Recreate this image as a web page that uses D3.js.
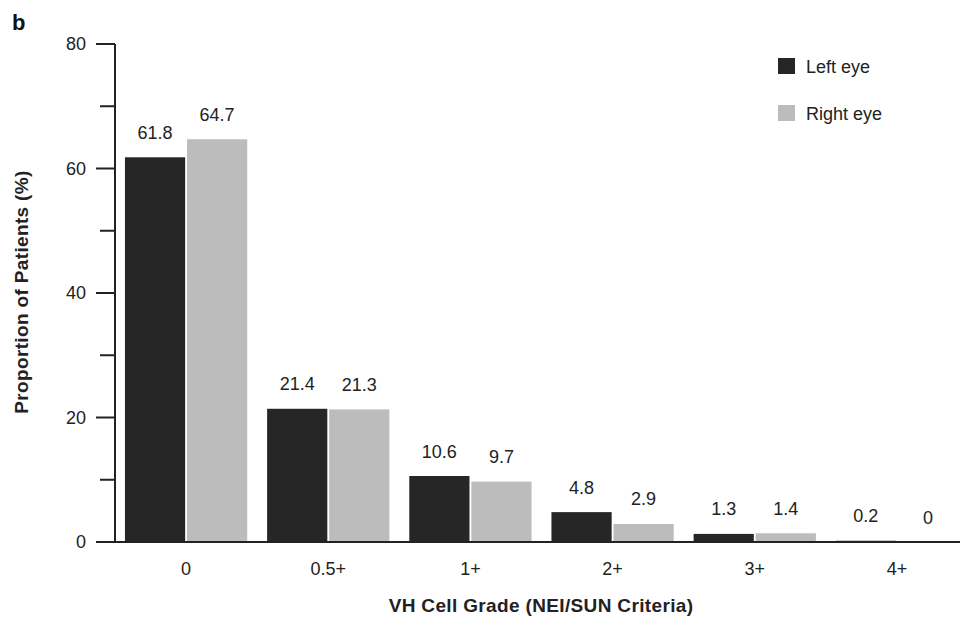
<!DOCTYPE html>
<html><head><meta charset="utf-8">
<script src="https://cdn.jsdelivr.net/npm/d3@7"></script>
<style>body{margin:0;background:#fff}svg{display:block;font-family:"Liberation Sans",Arial,Helvetica,sans-serif}</style>
</head><body>
<script>
const categories = ["0", "0.5+", "1+", "2+", "3+", "4+"];
const series = ["Left eye", "Right eye"];
const leftEye = [61.8, 21.4, 10.6, 4.8, 1.3, 0.2];
const rightEye = [64.7, 21.3, 9.7, 2.9, 1.4, 0];
const yTicks = [0, 10, 20, 30, 40, 50, 60, 70, 80];
const yLabels = [0, 20, 40, 60, 80];
const colors = ["#262626", "#bcbcbc"];

const W = 960, H = 619;
const svg = d3.select("body").append("svg").attr("width", W).attr("height", H);

const y = d3.scaleLinear().domain([0, 80]).range([542, 44]);
const x0 = d3.scaleBand().domain(categories).range([115, 968]).paddingInner(0.14).paddingOuter(0.07);
const x1 = d3.scaleBand().domain(series).range([0, x0.bandwidth()]).paddingInner(0.03);

const data = categories.map((c, i) => ({cat: c, vals: [leftEye[i], rightEye[i]]}));

// bars
const g = svg.append("g");
const groups = g.selectAll("g.grp").data(data).join("g")
  .attr("transform", d => `translate(${x0(d.cat)},0)`);
groups.selectAll("rect").data(d => d.vals.map((v, j) => ({s: series[j], v, j}))).join("rect")
  .attr("x", d => x1(d.s)).attr("width", x1.bandwidth())
  .attr("y", d => y(d.v)).attr("height", d => y(0) - y(d.v))
  .attr("fill", d => colors[d.j]);
groups.selectAll("text").data(d => d.vals.map((v, j) => ({s: series[j], v, j}))).join("text")
  .attr("x", d => x1(d.s) + x1.bandwidth() / 2)
  .attr("y", d => y(d.v) - 18.5)
  .attr("text-anchor", "middle").attr("font-size", 18).attr("fill", "#222")
  .text(d => d.v);

// y axis
const yAxis = svg.append("g");
yAxis.append("line").attr("x1", 115).attr("x2", 115).attr("y1", y(80)).attr("y2", y(0))
  .attr("stroke", "#222").attr("stroke-width", 2);
yAxis.selectAll("line.tk").data(yTicks).join("line").attr("class", "tk")
  .attr("x1", d => yLabels.includes(d) ? 96 : 100).attr("x2", 115)
  .attr("y1", d => y(d)).attr("y2", d => y(d))
  .attr("stroke", "#222").attr("stroke-width", 2);
yAxis.selectAll("text").data(yLabels).join("text")
  .attr("x", 86).attr("y", d => y(d)).attr("dy", "0.35em")
  .attr("text-anchor", "end").attr("font-size", 18).attr("fill", "#222")
  .text(d => d);

// x axis
svg.append("line").attr("x1", 96).attr("x2", 960).attr("y1", y(0)).attr("y2", y(0))
  .attr("stroke", "#222").attr("stroke-width", 2);
svg.append("g").selectAll("text").data(categories).join("text")
  .attr("x", d => x0(d) + x0.bandwidth() / 2).attr("y", 575)
  .attr("text-anchor", "middle").attr("font-size", 18).attr("fill", "#222")
  .text(d => d);

// titles
svg.append("text").attr("x", 541).attr("y", 612).attr("text-anchor", "middle")
  .attr("font-size", 19).attr("font-weight", "bold").attr("letter-spacing", "0.35px").attr("fill", "#222")
  .text("VH Cell Grade (NEI/SUN Criteria)");
svg.append("text").attr("transform", "translate(28,292) rotate(-90)").attr("text-anchor", "middle")
  .attr("font-size", 19).attr("font-weight", "bold").attr("letter-spacing", "0.35px").attr("fill", "#222")
  .text("Proportion of Patients (%)");
svg.append("text").attr("x", 12).attr("y", 30).attr("font-size", 22).attr("font-weight", "bold")
  .attr("fill", "#111").text("b");

// legend
const lg = svg.append("g").selectAll("g").data(series).join("g")
  .attr("transform", (d, i) => `translate(778,${58 + i * 47})`);
lg.append("rect").attr("width", 17).attr("height", 16).attr("fill", (d, i) => colors[i]);
lg.append("text").attr("x", 28).attr("y", 15).attr("font-size", 18).attr("fill", "#222").text(d => d);
</script>
</body></html>
